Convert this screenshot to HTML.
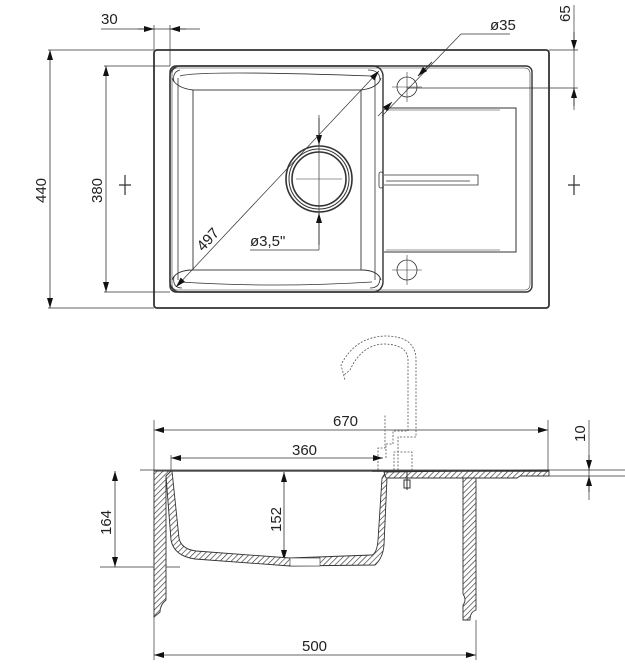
<!DOCTYPE html>
<html><head><meta charset="utf-8"><style>
html,body{margin:0;padding:0;background:#fff;}
svg{display:block;}
text{font-family:"Liberation Sans",sans-serif;font-size:15px;fill:#222;}
</style></head><body>
<svg width="625" height="670" viewBox="0 0 625 670" xmlns="http://www.w3.org/2000/svg">
<defs>
<pattern id="h" width="4" height="4" patternUnits="userSpaceOnUse" patternTransform="rotate(45)">
<rect width="4" height="4" fill="#fff"/><line x1="0" y1="0" x2="0" y2="4" stroke="#333" stroke-width="1.3"/>
</pattern>
<marker id="a" viewBox="0 0 10 6" refX="10" refY="3" markerWidth="10" markerHeight="6" markerUnits="userSpaceOnUse" orient="auto-start-reverse">
<path d="M0,0 L10,3 L0,6 z" fill="#111"/></marker>
</defs>
<g fill="none" stroke="#333" stroke-width="1">
<rect x="154" y="50" width="395" height="258" rx="3" stroke-width="1.8"/>
<rect x="170" y="66" width="362" height="226" rx="6" stroke-width="1.4"/>
<rect x="172" y="68" width="358" height="222" rx="5" stroke-width="0.6"/>
<rect x="170" y="66" width="213" height="226" rx="10" stroke-width="1.4"/>
<path d="M180,76 Q200,70 372,76 M180,282 Q275,288 372,282 M178,78 L178,280 M375,78 L375,280" stroke-width="0.8"/>
<rect x="193" y="90" width="168" height="180" stroke-width="0.9"/>
<path d="M172,78 Q176,88 193,90 M381,78 Q378,88 361,90 M172,280 Q176,270 193,270 M381,280 Q378,270 361,270" stroke-width="0.9"/>
<path d="M180,70 Q172,72 174,82 M368,70 Q380,70 380,80 M174,276 Q172,288 182,288 M380,278 Q380,288 370,288" stroke-width="0.8"/>
<circle cx="319" cy="179" r="33" stroke-width="1.6"/>
<circle cx="319" cy="179" r="30" stroke-width="1"/>
<circle cx="319" cy="179" r="27" stroke-width="1.6"/>
<line x1="296" y1="179" x2="342" y2="179" stroke-width="0.6"/>
<line x1="319" y1="115" x2="319" y2="250" stroke-width="0.7"/>
<line x1="319" y1="118" x2="319" y2="145" marker-end="url(#a)"/>
<line x1="319" y1="245" x2="319" y2="213" marker-end="url(#a)"/>
<line x1="250" y1="250" x2="319" y2="250" stroke-width="0.7"/>
<path d="M384,108 L516,108 L516,252 L384,252" stroke-width="1"/>
<path d="M386,110 L500,110 M386,250 L500,250" stroke-width="0.6"/>
<path d="M384,175 L478,175 L478,185 L384,185 M386,181 L470,181" stroke-width="0.8"/>
<rect x="379" y="172" width="4" height="16" rx="2" stroke-width="0.8"/>
<circle cx="407" cy="87" r="10" stroke-width="0.8"/>
<path d="M392,87 L422,87 M407,72 L407,102" stroke-width="0.6"/>
<circle cx="407" cy="270" r="10" stroke-width="0.8"/>
<path d="M392,270 L422,270 M407,255 L407,285" stroke-width="0.6"/>
<line x1="176" y1="287" x2="379" y2="71" stroke-width="0.7" marker-start="url(#a)" marker-end="url(#a)"/>
<line x1="461" y1="34" x2="382" y2="116" stroke-width="0.7"/>
<line x1="461" y1="34" x2="510" y2="34" stroke-width="0.7"/>
<line x1="432" y1="62" x2="418" y2="76" marker-end="url(#a)"/>
<line x1="378" y1="116" x2="392" y2="102" stroke-width="0.7" marker-end="url(#a)"/>
<line x1="154" y1="25" x2="154" y2="50" stroke-width="0.7"/>
<line x1="170" y1="25" x2="170" y2="66" stroke-width="0.7"/>
<line x1="101" y1="29" x2="200" y2="29" stroke-width="0.7"/>
<line x1="138" y1="29" x2="154" y2="29" marker-end="url(#a)"/>
<line x1="186" y1="29" x2="170" y2="29" marker-end="url(#a)"/>
<line x1="48" y1="50" x2="154" y2="50" stroke-width="0.7"/>
<line x1="48" y1="308" x2="154" y2="308" stroke-width="0.7"/>
<line x1="50" y1="50" x2="50" y2="308" stroke-width="0.8" marker-start="url(#a)" marker-end="url(#a)"/>
<line x1="104" y1="66" x2="170" y2="66" stroke-width="0.7"/>
<line x1="104" y1="292" x2="170" y2="292" stroke-width="0.7"/>
<line x1="106" y1="66" x2="106" y2="292" stroke-width="0.8" marker-start="url(#a)" marker-end="url(#a)"/>
<path d="M125,175 L125,195 M119,185 L131,185" stroke-width="1.2"/>
<path d="M574,175 L574,195 M568,185 L580,185" stroke-width="1.2"/>
<line x1="549" y1="50" x2="578" y2="50" stroke-width="0.7"/>
<line x1="407" y1="88" x2="578" y2="88" stroke-width="0.7"/>
<line x1="574" y1="5" x2="574" y2="110" stroke-width="0.7"/>
<line x1="574" y1="32" x2="574" y2="50" marker-end="url(#a)"/>
<line x1="574" y1="106" x2="574" y2="88" marker-end="url(#a)"/>

<g stroke-dasharray="2,1.5" stroke="#555" stroke-width="0.8">
<path d="M378,470 L378,448 L385,448 L385,415"/>
<path d="M386,458 L386,444 L393,444 L393,431 L408,431 L408,360 Q408,345 385,344 Q362,344 350,370 L344,375 M398,470 L398,437 L416,437 L416,360 Q416,336 385,336 Q355,337 341,365 L345,380"/>
<path d="M394,470 L394,452 L412,452 L412,470"/>
</g>
<line x1="140" y1="470" x2="625" y2="470" stroke-width="0.7"/>
<line x1="549" y1="476" x2="625" y2="476" stroke-width="0.7"/>
<line x1="100" y1="567" x2="180" y2="567" stroke-width="0.7"/>
<line x1="154" y1="420" x2="154" y2="660" stroke-width="0.7"/>
<line x1="548" y1="420" x2="548" y2="472" stroke-width="0.7"/>
<line x1="476" y1="620" x2="476" y2="660" stroke-width="0.7"/>
<line x1="171" y1="455" x2="171" y2="470" stroke-width="0.7"/>
<line x1="154" y1="430" x2="548" y2="430" stroke-width="0.8" marker-start="url(#a)" marker-end="url(#a)"/>
<line x1="171" y1="458" x2="383" y2="458" stroke-width="0.8" marker-start="url(#a)" marker-end="url(#a)"/>
<line x1="284" y1="472" x2="284" y2="560" stroke-width="0.8" marker-start="url(#a)" marker-end="url(#a)"/>
<line x1="115" y1="471" x2="115" y2="567" stroke-width="0.8" marker-start="url(#a)" marker-end="url(#a)"/>
<line x1="154" y1="655" x2="476" y2="655" stroke-width="0.8" marker-start="url(#a)" marker-end="url(#a)"/>
<line x1="589" y1="420" x2="589" y2="500" stroke-width="0.7"/>
<line x1="589" y1="455" x2="589" y2="470" marker-end="url(#a)"/>
<line x1="589" y1="492" x2="589" y2="476" marker-end="url(#a)"/>
<g fill="url(#h)" stroke="#333" stroke-width="0.9">
<path d="M154,471 L171,471 L171,476 L166,476 L166,600 Q160,605 160,612 L154,617 Z"/>
<path d="M463,478 L476,478 L476,610 Q470,612 470,620 L463,620 L463,605 Q467,600 463,594 Z"/>
<path d="M166,476 L171,471 L172,471 L179,538 Q181,549 196,551 L290,558 L372,555 Q377,553 378,540 L382,478 L386,472 L392,472 L387,478 L384,545 Q383,558 375,565 L290,566 L195,559 Q174,556 171,540 Z"/>
<path d="M384,472 L549,470 L549,476 L520,476 L517,478 L392,478 L386,478 Z"/>
</g>
<rect x="290" y="558" width="30" height="8" fill="#fff" stroke-width="0.6"/>
<line x1="372" y1="471" x2="549" y2="471" stroke-width="1.6"/>
<line x1="171" y1="471" x2="383" y2="471" stroke-width="1.2"/>
<path d="M407,470 L407,490 M404,480 L410,480 L410,488 L404,488 Z" stroke-width="1"/>
</g>
<text x="101" y="24">30</text>
<text x="490" y="30">ø35</text>
<text transform="translate(570,22) rotate(-90)">65</text>
<text transform="translate(46,203) rotate(-90)">440</text>
<text transform="translate(102,203) rotate(-90)">380</text>
<text transform="translate(203,252) rotate(-47)">497</text>
<text x="250" y="246" font-size="14">ø3,5"</text>
<text x="333" y="426">670</text>
<text x="292" y="455">360</text>
<text transform="translate(281,532) rotate(-90)">152</text>
<text transform="translate(111,535) rotate(-90)">164</text>
<text transform="translate(585,442) rotate(-90)">10</text>
<text x="302" y="651">500</text>
</svg>
</body></html>
